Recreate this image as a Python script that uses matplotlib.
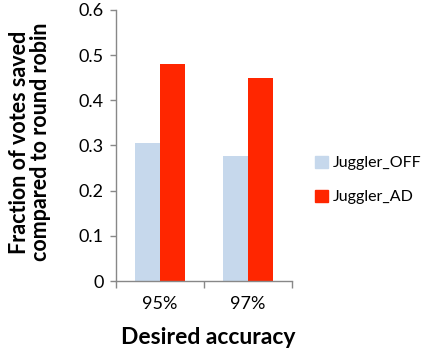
import numpy as np
import matplotlib.pyplot as plt
from matplotlib.patches import Patch

plt.rcParams['font.family'] = ['Lato', 'DejaVu Sans']

accuracy = ['95%', '97%']
juggler_off = [0.305, 0.277]
juggler_ad = [0.48, 0.449]

fig = plt.figure(figsize=(4.23, 3.52), dpi=100)
ax = fig.add_axes([0.2742, 0.2017, 0.4161, 0.77])

x = np.arange(len(accuracy))
w = 0.288
ax.bar(x - w / 2, juggler_off, w, color='#c6d8ec', label='Juggler_OFF')
ax.bar(x + w / 2, juggler_ad, w, color='#ff2600', label='Juggler_AD')

ax.set_xlim(-0.5, 1.5)
ax.set_ylim(0, 0.6)
ax.set_yticks(np.arange(0, 0.61, 0.1))
ax.set_yticklabels(['0', '0.1', '0.2', '0.3', '0.4', '0.5', '0.6'])
ax.set_xticks(x)
ax.set_xticklabels(accuracy)
ax.set_xticks([-0.5, 0.5, 1.5], minor=True)

for s in ['top', 'right']:
    ax.spines[s].set_visible(False)
for s in ['left', 'bottom']:
    ax.spines[s].set_color('#888888')
    ax.spines[s].set_linewidth(1.0)
ax.tick_params(axis='y', colors='#888888', labelcolor='black', labelsize=13,
               length=4, width=1, pad=5)
ax.tick_params(axis='x', which='major', length=0, labelsize=13, pad=11)
ax.tick_params(axis='x', which='minor', colors='#888888', length=5, width=1)

fig.text(0.071, 1 - 142 / 352, 'Fraction of votes saved\ncompared to round robin',
         rotation=90, ha='center', va='center', fontsize=15.5, fontweight='bold',
         linespacing=1.0)
fig.text(208 / 423, 1 - 337 / 352, 'Desired accuracy', ha='center', va='center',
         fontsize=16.5, fontweight='bold')

handles = [Patch(color='#c6d8ec', label='Juggler_OFF'),
           Patch(color='#ff2600', label='Juggler_AD')]
fig.legend(handles=handles, loc='center left', bbox_to_anchor=(315 / 423, 1 - 180 / 352),
           frameon=False, fontsize=11.5, handlelength=0.8, handleheight=0.8,
           handletextpad=0.3, labelspacing=1.2, borderaxespad=0, borderpad=0)

fig.savefig('out.png', dpi=100)
